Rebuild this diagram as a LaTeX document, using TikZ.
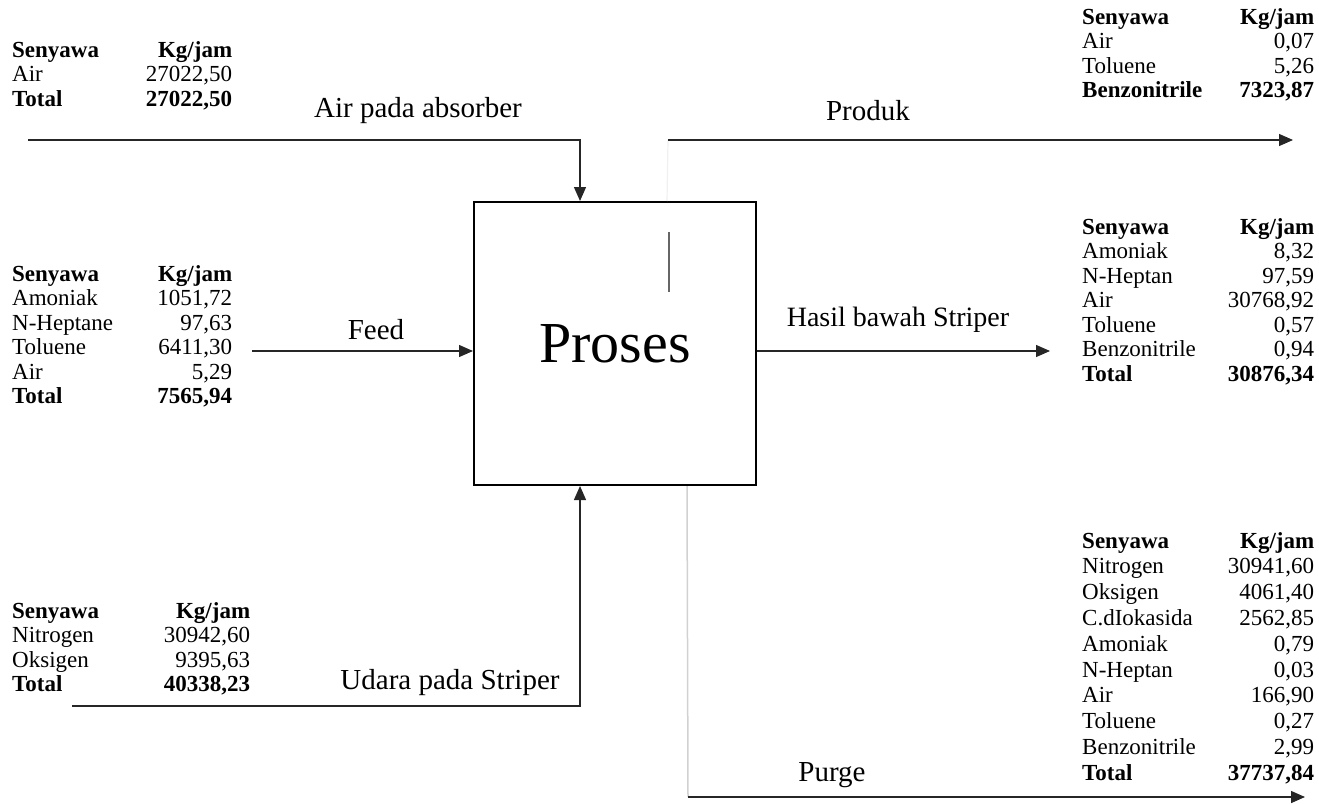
\documentclass[tikz,border=0pt]{standalone}
\usepackage{fontspec}
\setmainfont{Liberation Serif}
\usetikzlibrary{arrows.meta,calc}

% two-column stream table: compound name left, flow rate right
\newcommand{\streamtab}[2]{%
  \begin{tabular*}{#1}[t]{@{}l@{\extracolsep{\fill}}r@{}}#2\end{tabular*}}

\tikzset{
  flow/.style={line width=1.3pt, draw=black!85,
    -{Triangle[length=14pt,width=12pt]}},
  faint/.style={line width=1.5pt, draw=black!18},
  tab/.style={inner sep=0pt, anchor=base west,
    font=\fontsize{23}{#1}\selectfont},
  tab/.default=24.5,
  lbl/.style={inner sep=0pt, font=\fontsize{29}{30}\selectfont},
  unit/.style={draw, line width=2pt, minimum width=282pt,
    minimum height=283pt, inner sep=0pt,
    font=\fontsize{58}{60}\selectfont}
}

\begin{document}
\begin{tikzpicture}[x=1pt,y=-1pt]
\useasboundingbox (0,0) rectangle (1319,803);

% process unit
\node[unit] (proc) at (615,343.5) {Proses};
\draw[line width=1.3pt, draw=black!60] (669,232) coordinate (mk1) -- (669,292) coordinate (mk2);

% stream tables
\node[tab] (tAbs) at (12,57) {\streamtab{220pt}{%
  \textbf{Senyawa} & \textbf{Kg/jam}\\
  Air & 27022,50\\
  \textbf{Total} & \textbf{27022,50}}};

\node[tab] (tFeed) at (12,281) {\streamtab{220pt}{%
  \textbf{Senyawa} & \textbf{Kg/jam}\\
  Amoniak & 1051,72\\
  N-Heptane & 97,63\\
  Toluene & 6411,30\\
  Air & 5,29\\
  \textbf{Total} & \textbf{7565,94}}};

\node[tab] (tUdara) at (12,618) {\streamtab{238pt}{%
  \textbf{Senyawa} & \textbf{Kg/jam}\\
  Nitrogen & 30942,60\\
  Oksigen & 9395,63\\
  \textbf{Total} & \textbf{40338,23}}};

\node[tab] (tProd) at (1082,24) {\streamtab{232pt}{%
  \textbf{Senyawa} & \textbf{Kg/jam}\\
  Air & 0,07\\
  Toluene & 5,26\\
  \textbf{Benzonitrile} & \textbf{7323,87}}};

\node[tab] (tHasil) at (1082,234) {\streamtab{232pt}{%
  \textbf{Senyawa} & \textbf{Kg/jam}\\
  Amoniak & 8,32\\
  N-Heptan & 97,59\\
  Air & 30768,92\\
  Toluene & 0,57\\
  Benzonitrile & 0,94\\
  \textbf{Total} & \textbf{30876,34}}};

\node[tab=25.8] (tPurge) at (1082,548) {\streamtab{232pt}{%
  \textbf{Senyawa} & \textbf{Kg/jam}\\
  Nitrogen & 30941,60\\
  Oksigen & 4061,40\\
  C.dIokasida & 2562,85\\
  Amoniak & 0,79\\
  N-Heptan & 0,03\\
  Air & 166,90\\
  Toluene & 0,27\\
  Benzonitrile & 2,99\\
  \textbf{Total} & \textbf{37737,84}}};

% stream labels
\node[lbl] (lAbs)   at (418,111) {Air pada absorber};
\node[lbl] (lProd)  at (868,111) {Produk};
\node[lbl] (lFeed)  at (376,330) {Feed};
\node[lbl, font=\fontsize{28}{30}\selectfont] (lHasil) at (898,320) {Hasil bawah Striper};
\node[lbl] (lUdara) at (450,683) {Udara pada Striper};
\node[lbl] (lPurge) at (832,775) {Purge};

% stream end points
\coordinate (absStart)   at (28,140);
\coordinate (feedStart)  at (252,351);
\coordinate (udaraStart) at (72,706);
\coordinate (prodStart)  at (668,140);
\coordinate (prodEnd)    at (1293,140);
\coordinate (hasilEnd)   at (1050,351);
\coordinate (purgeCorner) at (688,797);
\coordinate (purgeEnd)   at (1305,797);

% inlet streams
\draw[flow] (absStart) -| ([xshift=107pt]proc.north west);
\draw[flow] (feedStart) -- (feedStart -| proc.west);
\draw[flow] (udaraStart) -| ([xshift=107pt]proc.south west);

% outlet streams
\draw[line width=1.2pt, draw=black!6] ([xshift=194pt]proc.north west) -- (prodStart);
\draw[flow] (prodStart) -- (prodEnd);
\draw[flow] (proc.east |- hasilEnd) -- (hasilEnd);
\draw[faint] ([xshift=214pt]proc.south west) -- (purgeCorner);
\draw[flow] (purgeCorner) -- (purgeEnd);
\end{tikzpicture}
\end{document}
